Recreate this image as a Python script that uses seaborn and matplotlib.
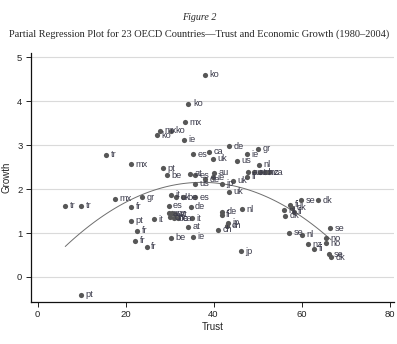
import matplotlib
matplotlib.use("Agg")
import matplotlib.pyplot as plt
import seaborn as sns
import pandas as pd

country = ["ko","ko","mx","ie","mx","ko","ko","tr","mx","pt","be","es","ca","uk","de","ie","gr","us","nl",
           "at","es","au","ie","de","us","jp","uk","uk","fi","au","at","ch","nz","ca",
           "se","dk","fi","dk","nl","fi","dk","nl","de","fi","jp","ch","ch","se","se","nl",
           "no","no","nz","fi","se","dk","jp","pt","tr","tr","mx","gr","fr","pt","it","fr","fr","fr",
           "be","ie","at","it","au","nz","at","ch","be","ca","es","de","it","uk","be","es"]
trust = [38.1,34.3,33.5,33.3,27.8,30.3,27.2,15.6,21.3,28.4,29.5,35.3,38.9,39.8,43.5,47.5,50.2,45.4,50.4,
         34.7,35.8,40.1,39.9,38.1,35.8,41.9,44.5,43.6,47.7,47.9,49.2,50.6,51.7,52.7,
         59.9,63.7,57.4,57.8,56.0,58.2,56.2,46.4,41.9,41.9,43.2,43.1,41.1,66.5,57.2,60.0,
         65.6,65.5,61.4,62.9,66.3,66.7,46.2,9.9,6.3,9.9,17.6,23.7,21.3,21.3,26.4,22.7,22.2,24.8,
         30.3,35.3,34.2,35.0,29.8,30.6,31.3,30.1,30.9,32.0,29.8,34.8,30.4,31.5,33.1,35.8]
growth = [4.60,3.94,3.52,3.13,3.33,3.33,3.23,2.78,2.57,2.48,2.32,2.79,2.85,2.69,2.98,2.79,2.92,2.65,2.56,
          2.35,2.32,2.37,2.27,2.23,2.12,2.12,2.19,1.94,2.28,2.38,2.38,2.38,2.38,2.38,
          1.75,1.75,1.64,1.58,1.52,1.48,1.39,1.54,1.49,1.42,1.24,1.17,1.07,1.11,1.01,0.96,
          0.88,0.77,0.74,0.64,0.52,0.45,0.59,-0.41,1.62,1.62,1.78,1.82,1.60,1.28,1.32,1.05,0.83,0.69,
          0.89,0.92,1.14,1.34,1.45,1.45,1.43,1.36,1.34,1.34,1.62,1.60,1.87,1.82,1.82,1.82]

xticks = [0, 20, 40, 60, 80]
yticks = [0, 1, 2, 3, 4, 5]

df = pd.DataFrame({"Trust": trust, "Growth": growth, "country": country})

sns.set_style("white")
plt.rcParams["font.family"] = ["Liberation Sans", "DejaVu Sans"]

fig = plt.figure(figsize=(3.97, 3.44), dpi=100)
ax = fig.add_axes([30.7/397, 42/344, (394-30.7)/397, (302-53)/344])

for t in yticks:
    ax.axhline(t, color="#dadada", lw=0.8, zorder=0)

sns.regplot(data=df, x="Trust", y="Growth", order=2, ci=None, scatter=False,
            line_kws={"color": "#6e6e6e", "lw": 0.7}, ax=ax)
sns.scatterplot(data=df, x="Trust", y="Growth", color="#575757", s=14, linewidth=0,
                ax=ax, zorder=3, legend=False)
for c, x, y in zip(country, trust, growth):
    ax.annotate(c, (x, y), xytext=(3.2, 0), textcoords="offset points",
                va="center", ha="left", fontsize=6.6, color="#3a3a4a", zorder=4)

ax.set_xlim(-1.55, 81.0)
ax.set_ylim(-0.57, 5.10)
ax.set_xticks(xticks)
ax.set_yticks(yticks)
ax.tick_params(axis="both", direction="out", length=3.5, width=0.7, labelsize=6.8,
               colors="#222222", pad=2.5, left=True, bottom=True)
for s in ["top", "right"]:
    ax.spines[s].set_visible(False)
for s in ["left", "bottom"]:
    ax.spines[s].set_color("#111111")
    ax.spines[s].set_linewidth(0.9)
ax.set_xlabel("Trust", fontsize=7, color="#222222", labelpad=2)
ax.set_ylabel("Growth", fontsize=7, color="#222222", labelpad=4)

fig.text(199/397, 1 - 17/344, "Figure 2", ha="center", va="center", fontsize=7.2,
         style="italic", family=["Liberation Serif", "DejaVu Serif"])
fig.text(199/397, 1 - 34/344,
         "Partial Regression Plot for 23 OECD Countries\u2014Trust and Economic Growth (1980\u20132004)",
         ha="center", va="center", fontsize=7.5, family=["Liberation Serif", "DejaVu Serif"])

fig.savefig("out.png", dpi=100)
